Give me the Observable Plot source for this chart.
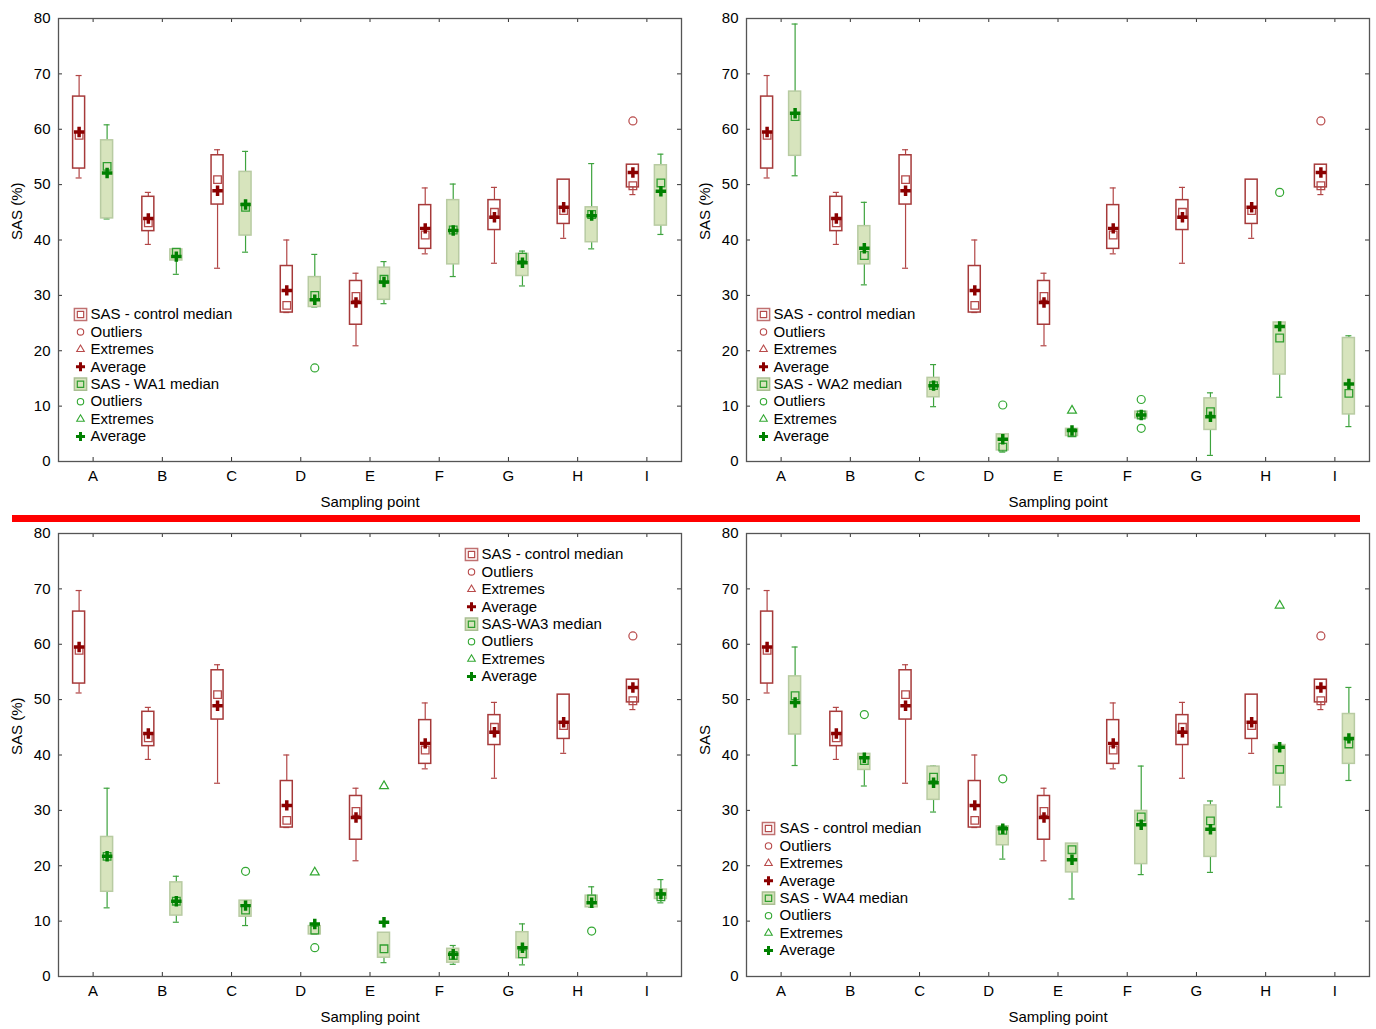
<!DOCTYPE html>
<html><head><meta charset="utf-8">
<script src="https://cdn.jsdelivr.net/npm/d3@7"></script>
<script src="https://cdn.jsdelivr.net/npm/@observablehq/plot@0.6"></script>
<style>
html,body{margin:0;padding:0;background:#fff;}
#root{position:relative;width:1376px;height:1029px;overflow:hidden;font-family:"Liberation Sans",Arial,sans-serif;}
.panel{position:absolute;}
#redline{position:absolute;left:12px;top:515px;width:1348px;height:7px;background:#ff0000;z-index:5;}
</style></head><body><div id="root"></div>
<script>
// ---------------- DATA ----------------
const categories = ["A","B","C","D","E","F","G","H","I"];
const yTicks = [0,10,20,30,40,50,60,70,80];

// rows: [category, min, q1, median, mean, q3, max]
const controlBox = [
  ["A",51.2,52.9,58.9,59.5,65.9,69.7],
  ["B",39.2,41.6,43.1,43.9,47.8,48.6],
  ["C",34.9,46.4,50.9,48.9,55.3,56.3],
  ["D",26.9,26.9,28.2,30.9,35.3,40.0],
  ["E",20.9,24.7,29.8,28.7,32.6,34.0],
  ["F",37.5,38.4,40.9,42.1,46.3,49.4],
  ["G",35.8,41.8,45.0,44.1,47.2,49.5],
  ["H",40.3,42.9,45.3,45.9,50.9,50.9],
  ["I",48.2,49.5,49.8,52.2,53.6,53.6]
];
const controlOutliers = [["I",61.5]];
const controlExtremes = [];

const wa1Box = [
  ["A",43.8,43.9,53.3,52.1,58.0,60.8],
  ["B",33.8,36.3,37.8,37.0,38.3,38.3],
  ["C",37.8,40.8,45.9,46.4,52.3,56.0],
  ["D",27.9,27.9,30.0,29.2,33.3,37.4],
  ["E",28.5,29.2,32.9,32.4,35.0,36.1],
  ["F",33.4,35.6,41.8,41.7,47.2,50.1],
  ["G",31.7,33.5,36.9,35.9,37.5,38.0],
  ["H",38.4,39.6,44.6,44.4,45.9,53.8],
  ["I",41.0,42.6,50.3,48.8,53.5,55.5]
];
const wa1Outliers = [["D",16.9]];
const wa1Extremes = [];

const wa2Box = [
  ["A",51.6,55.2,62.3,62.9,66.8,79.0],
  ["B",31.9,35.6,37.2,38.5,42.5,46.8],
  ["C",9.9,11.6,13.7,13.7,15.1,17.5],
  ["D",1.7,2.0,2.6,4.0,4.9,4.9],
  ["E",4.6,4.6,5.2,5.6,5.9,5.9],
  ["F",7.8,7.8,8.4,8.4,9.0,9.0],
  ["G",1.1,5.7,9.0,8.1,11.4,12.4],
  ["H",11.6,15.7,22.3,24.4,25.1,25.1],
  ["I",6.3,8.5,12.3,14.0,22.3,22.7]
];
const wa2Outliers = [["D",10.2],["F",11.2],["F",6.0],["H",48.6]];
const wa2Extremes = [["E",9.2]];

const wa3Box = [
  ["A",12.4,15.3,21.7,21.7,25.2,34.0],
  ["B",9.8,11.0,13.6,13.6,17.0,18.1],
  ["C",9.2,10.8,12.0,12.8,13.7,13.7],
  ["D",7.6,7.6,8.4,9.5,9.1,9.1],
  ["E",2.5,3.4,5.0,9.8,7.9,7.9],
  ["F",2.2,2.5,3.8,4.0,5.0,5.6],
  ["G",2.1,3.3,4.1,5.2,8.0,9.5],
  ["H",12.5,12.5,14.0,13.3,14.6,16.2],
  ["I",13.3,14.0,14.4,14.9,15.7,17.5]
];
const wa3Outliers = [["C",19.0],["D",5.2],["H",8.2]];
const wa3Extremes = [["D",18.8],["E",34.4]];

const wa4Box = [
  ["A",38.1,43.7,50.7,49.5,54.2,59.5],
  ["B",34.4,37.3,39.0,39.5,40.2,40.2],
  ["C",29.7,31.9,36.0,35.0,37.9,38.0],
  ["D",21.2,23.7,26.4,26.7,27.1,27.1],
  ["E",14.0,18.8,22.9,21.1,24.0,24.0],
  ["F",18.4,20.3,28.8,27.4,29.9,38.0],
  ["G",18.8,21.6,28.1,26.6,30.9,31.7],
  ["H",30.6,34.5,37.4,41.4,41.8,41.8],
  ["I",35.4,38.4,42.0,43.0,47.4,52.2]
];
const wa4Outliers = [["B",47.3],["D",35.7]];
const wa4Extremes = [["H",67.0]];

const legendLabels = ["Outliers","Extremes","Average"];

// ---------------- STYLE ----------------
const RED = {whisker:"#b24646", box:"#a63a3a", fill:"#ffffff", median:"#b44a4a", mean:"#8b0000", outlier:"#b84a4a", legendBox:"#c07070"};
const GREEN = {whisker:"#3ea33e", box:"#b8cba2", fill:"#d7e4bd", median:"#2f9e2f", mean:"#008000", outlier:"#33a833", legendBox:"#a9bf92"};
const FRAME_W = 623, FRAME_H = 443;
const UNIT = FRAME_W / 9;
const HW = 6 / UNIT, CAP = 3 / UNIT;
const FONT = "Liberation Sans, Arial, sans-serif";

function rows(table) {
  return table.map(([cat, min, q1, median, mean, q3, max]) => ({i: categories.indexOf(cat), min, q1, median, mean, q3, max}));
}
function pts(list) {
  return list.map(([cat, v]) => ({i: categories.indexOf(cat), v}));
}

function seriesMarks(table, outl, extr, st, dx) {
  const data = rows(table);
  return [
    Plot.ruleX(data, {x: "i", y1: "min", y2: "max", stroke: st.whisker, strokeWidth: 1.2, dx}),
    Plot.ruleY(data, {y: "min", x1: d => d.i - CAP, x2: d => d.i + CAP, stroke: st.whisker, strokeWidth: 1.2, dx}),
    Plot.ruleY(data, {y: "max", x1: d => d.i - CAP, x2: d => d.i + CAP, stroke: st.whisker, strokeWidth: 1.2, dx}),
    Plot.rect(data, {x1: d => d.i - HW, x2: d => d.i + HW, y1: "q1", y2: "q3", fill: st.fill, stroke: st.box, strokeWidth: 1.5, dx}),
    Plot.dot(data, {x: "i", y: "median", symbol: "square", r: 4.3, stroke: st.median, fill: "none", strokeWidth: 1.3, dx}),
    Plot.dot(data, {x: "i", y: "mean", symbol: "cross", r: 4.4, fill: st.mean, stroke: "none", dx}),
    Plot.dot(pts(outl), {x: "i", y: "v", symbol: "circle", r: 4, stroke: st.outlier, fill: "none", strokeWidth: 1.2, dx}),
    Plot.dot(pts(extr), {x: "i", y: "v", symbol: "triangle", r: 3.3, stroke: st.outlier, fill: "none", strokeWidth: 1.2, dx})
  ];
}

function legendMarks(lg, waName) {
  const marks = [];
  const step = 17.43;
  const groups = [["SAS - control median", RED], [waName, GREEN]];
  groups.forEach(([name, st], g) => {
    const base = lg.y0 + g * 4 * step;
    const names = [name, ...legendLabels];
    names.forEach((t, k) => {
      const dy = base + k * step;
      marks.push(Plot.text([t], {text: d => d, frameAnchor: "top-left", dx: lg.tx, dy, textAnchor: "start", lineAnchor: "middle", fontSize: 15, fill: "#000"}));
      const common = {frameAnchor: "top-left", dx: lg.sx, dy};
      if (k === 0) {
        marks.push(Plot.dot([0], {...common, symbol: "square", r: 6.9, fill: st.fill, stroke: st.legendBox, strokeWidth: 1.5}));
        marks.push(Plot.dot([0], {...common, symbol: "square", r: 3.6, fill: "none", stroke: st.median, strokeWidth: 1.2}));
      } else if (k === 1) {
        marks.push(Plot.dot([0], {...common, symbol: "circle", r: 3.2, fill: "none", stroke: st.outlier, strokeWidth: 1.1}));
      } else if (k === 2) {
        marks.push(Plot.dot([0], {...common, symbol: "triangle", r: 2.8, fill: "none", stroke: st.outlier, strokeWidth: 1.1}));
      } else {
        marks.push(Plot.dot([0], {...common, symbol: "cross", r: 3.8, fill: st.mean, stroke: "none"}));
      }
    });
  });
  return marks;
}

function panel(cfg) {
  const svg = Plot.plot({
    width: cfg.width, height: cfg.height,
    marginLeft: 58, marginRight: cfg.width - 58 - FRAME_W, marginTop: 18, marginBottom: cfg.height - 18 - FRAME_H,
    style: {fontFamily: FONT, fontSize: "15px", background: "white", color: "#000", overflow: "visible"},
    x: {type: "linear", domain: [-0.5, 8.5], ticks: d3.range(9), tickFormat: i => categories[i], tickSize: 0, tickPadding: 9, label: null},
    y: {domain: [0, 80], ticks: yTicks, tickSize: 0, tickPadding: 8, label: null},
    marks: [
      Plot.tickY(yTicks, {y: d => d, insetRight: FRAME_W - 4, stroke: "#333"}),
      Plot.tickY(yTicks, {y: d => d, insetLeft: FRAME_W - 4, stroke: "#333"}),
      Plot.tickX(d3.range(9), {x: d => d, insetBottom: FRAME_H - 4, stroke: "#333"}),
      Plot.tickX(d3.range(9), {x: d => d, insetTop: FRAME_H - 4, stroke: "#333"}),
      ...seriesMarks(controlBox, controlOutliers, controlExtremes, RED, -14),
      ...seriesMarks(cfg.table, cfg.outl, cfg.extr, GREEN, 14),
      ...legendMarks(cfg.legend, cfg.waName),
      Plot.frame({stroke: "#555", strokeWidth: 1.3}),
      Plot.text(["Sampling point"], {text: d => d, frameAnchor: "bottom", lineAnchor: "middle", dy: 41, fontSize: 15, fill: "#000"}),
      Plot.text([cfg.yLabel], {text: d => d, frameAnchor: "left", lineAnchor: "middle", dx: -41, rotate: -90, fontSize: 15, fill: "#000"})
    ]
  });
  const div = document.createElement("div");
  div.className = "panel";
  div.style.left = cfg.left + "px";
  div.style.top = cfg.top + "px";
  div.appendChild(svg);
  document.getElementById("root").appendChild(div);
}

panel({left: 0, top: 0, width: 690, height: 515, table: wa1Box, outl: wa1Outliers, extr: wa1Extremes,
  yLabel: "SAS (%)", waName: "SAS - WA1 median", legend: {sx: 22, tx: 32, y0: 296}});
panel({left: 688, top: 0, width: 688, height: 515, table: wa2Box, outl: wa2Outliers, extr: wa2Extremes,
  yLabel: "SAS (%)", waName: "SAS - WA2 median", legend: {sx: 17, tx: 27, y0: 296}});
panel({left: 0, top: 515, width: 690, height: 514, table: wa3Box, outl: wa3Outliers, extr: wa3Extremes,
  yLabel: "SAS (%)", waName: "SAS-WA3 median", legend: {sx: 413, tx: 423, y0: 21}});
panel({left: 688, top: 515, width: 688, height: 514, table: wa4Box, outl: wa4Outliers, extr: wa4Extremes,
  yLabel: "SAS", waName: "SAS - WA4 median", legend: {sx: 22, tx: 33, y0: 295}});

const red = document.createElement("div");
red.id = "redline";
document.getElementById("root").appendChild(red);
</script>
</body></html>
